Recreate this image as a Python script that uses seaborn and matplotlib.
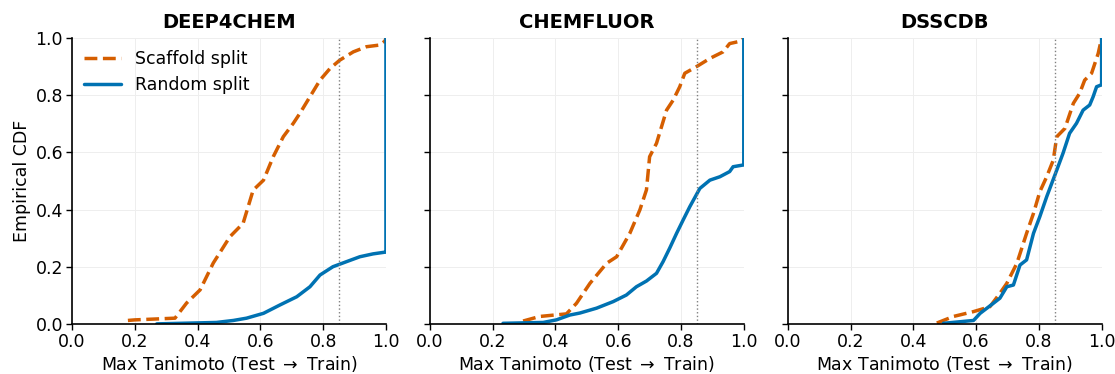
import numpy as np
import pandas as pd
import matplotlib
matplotlib.use("Agg")
import matplotlib.pyplot as plt
import seaborn as sns

datasets = ["DEEP4CHEM", "CHEMFLUOR", "DSSCDB"]

# DEEP4CHEM
d4c_scaf_x = [0.178, 0.20, 0.328, 0.365, 0.408, 0.45, 0.503, 0.545, 0.577, 0.61, 0.641, 0.673, 0.705, 0.726, 0.758, 0.79, 0.822, 0.853, 0.896, 0.938, 0.981, 0.997, 1.0]
d4c_scaf_y = [0.012, 0.014, 0.02, 0.073, 0.119, 0.213, 0.305, 0.352, 0.468, 0.503, 0.585, 0.655, 0.702, 0.737, 0.795, 0.853, 0.894, 0.923, 0.952, 0.97, 0.976, 0.99, 1.0]
d4c_rand_x = [0.27, 0.46, 0.514, 0.556, 0.61, 0.662, 0.716, 0.758, 0.79, 0.831, 0.875, 0.917, 0.959, 0.997, 1.0, 1.0]
d4c_rand_y = [0.0, 0.005, 0.012, 0.02, 0.037, 0.066, 0.095, 0.13, 0.171, 0.2, 0.218, 0.235, 0.245, 0.251, 0.251, 1.0]

# CHEMFLUOR
cf_scaf_x = [0.297, 0.35, 0.435, 0.467, 0.51, 0.563, 0.595, 0.637, 0.669, 0.69, 0.70, 0.722, 0.754, 0.775, 0.796, 0.812, 0.849, 0.892, 0.934, 0.955, 0.992, 1.0]
cf_scaf_y = [0.01, 0.026, 0.035, 0.072, 0.142, 0.212, 0.235, 0.317, 0.399, 0.469, 0.585, 0.632, 0.748, 0.783, 0.83, 0.877, 0.9, 0.929, 0.952, 0.981, 0.99, 1.0]
cf_rand_x = [0.233, 0.361, 0.403, 0.446, 0.478, 0.531, 0.584, 0.626, 0.658, 0.69, 0.722, 0.743, 0.764, 0.786, 0.807, 0.828, 0.86, 0.892, 0.924, 0.955, 0.966, 0.998, 1.0, 1.0]
cf_rand_y = [0.002, 0.005, 0.014, 0.031, 0.038, 0.055, 0.078, 0.101, 0.13, 0.15, 0.177, 0.218, 0.265, 0.317, 0.364, 0.41, 0.474, 0.503, 0.515, 0.533, 0.55, 0.556, 0.556, 1.0]

# DSSCDB
ds_scaf_x = [0.475, 0.528, 0.592, 0.644, 0.676, 0.698, 0.73, 0.761, 0.783, 0.803, 0.825, 0.846, 0.857, 0.883, 0.91, 0.93, 0.946, 0.968, 0.989, 1.0]
ds_scaf_y = [0.003, 0.026, 0.043, 0.06, 0.107, 0.142, 0.212, 0.317, 0.387, 0.462, 0.515, 0.573, 0.655, 0.684, 0.772, 0.807, 0.853, 0.877, 0.946, 1.0]
ds_rand_x = [0.496, 0.592, 0.613, 0.655, 0.676, 0.698, 0.719, 0.74, 0.761, 0.783, 0.803, 0.825, 0.857, 0.877, 0.898, 0.92, 0.941, 0.962, 0.973, 0.984, 0.998, 1.0, 1.0]
ds_rand_y = [0.002, 0.012, 0.037, 0.072, 0.09, 0.13, 0.136, 0.206, 0.224, 0.317, 0.375, 0.445, 0.538, 0.597, 0.667, 0.702, 0.748, 0.766, 0.795, 0.83, 0.836, 0.836, 1.0]

scaffold = [(d4c_scaf_x, d4c_scaf_y), (cf_scaf_x, cf_scaf_y), (ds_scaf_x, ds_scaf_y)]
random_ = [(d4c_rand_x, d4c_rand_y), (cf_rand_x, cf_rand_y), (ds_rand_x, ds_rand_y)]
threshold = 0.85

sns.set_theme(style="ticks", rc={"text.color": "black", "axes.labelcolor": "black",
                                 "xtick.color": "black", "ytick.color": "black"})
plt.rcParams["font.family"] = ["DejaVu Sans"]
FS = 12.5

ORANGE = "#d55e00"
BLUE = "#0072b2"

fig, axes = plt.subplots(1, 3, figsize=(11.15, 3.74), dpi=100, sharey=True)
fig.subplots_adjust(left=0.0646, right=0.988, top=0.898, bottom=0.134, wspace=0.14)

for i, ax in enumerate(axes):
    sx, sy = scaffold[i]
    rx, ry = random_[i]
    sns.lineplot(x=sx, y=sy, ax=ax, sort=False, estimator=None, color=ORANGE,
                 lw=2.5, linestyle="--", label="Scaffold split" if i == 0 else None)
    sns.lineplot(x=rx, y=ry, ax=ax, sort=False, estimator=None, color=BLUE,
                 lw=2.5, label="Random split" if i == 0 else None)
    ax.axvline(threshold, color="gray", lw=1.0, linestyle=":")
    ax.set_xlim(0, 1)
    ax.set_ylim(0, 1)
    ax.set_xticks(np.arange(0, 1.01, 0.2))
    ax.set_yticks(np.arange(0, 1.01, 0.2))
    ax.grid(True, color="#eeeeee", lw=0.7)
    ax.set_axisbelow(True)
    sns.despine(ax=ax)
    for s in ["left", "bottom"]:
        ax.spines[s].set_color("black")
        ax.spines[s].set_linewidth(1.2)
    ax.tick_params(labelsize=FS, colors="black", width=1.0, length=4, pad=2.5)
    ax.set_title(datasets[i], fontsize=14, fontweight="bold", color="black", pad=7)
    ax.set_xlabel("Max Tanimoto (Test $\\rightarrow$ Train)", fontsize=FS, labelpad=2)
    if i == 0:
        ax.set_ylabel("Empirical CDF", fontsize=FS, labelpad=3)
        ax.legend(loc="upper left", frameon=False, fontsize=FS, handlelength=2.1,
                  handletextpad=0.8, borderaxespad=0.3, labelspacing=0.45)
    else:
        ax.set_ylabel("")

fig.savefig("out.png", dpi=100)
